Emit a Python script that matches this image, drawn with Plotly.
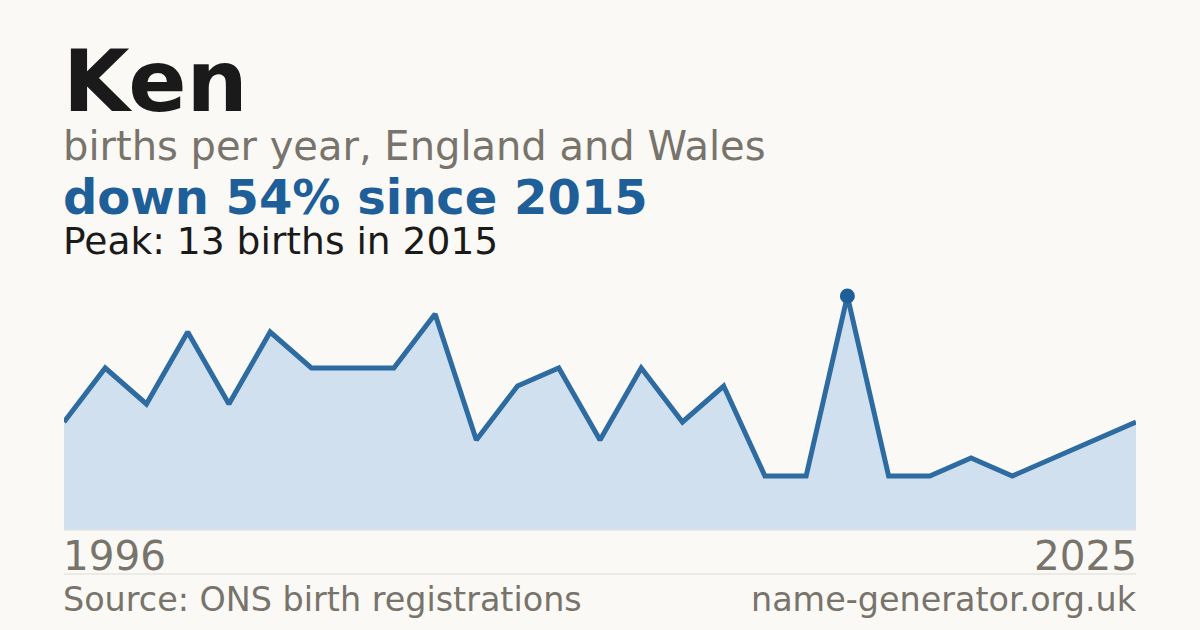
import plotly.graph_objects as go

# births per year for "Ken"
years = list(range(1996, 2023))
births = [6, 9, 7, 11, 7, 11, 9, 9, 9, 12, 5, 8, 9, 5, 9, 6, 8, 3, 3, 13,
          3, 3, 4, 3, 4, 5, 6]
peak_year = 2015
peak_value = 13
first_label = "1996"
last_label = "2025"

BG = "#faf9f5"
BLUE = "#1f5f99"
GREY = "#78736b"
FONT = "DejaVu Sans"

fig = go.Figure()
fig.add_trace(go.Scatter(
    x=years, y=births, mode="lines",
    line=dict(color="#2d6ba1", width=5),
    fill="tozeroy", fillcolor="#d0e0ef",
    hoverinfo="skip"))
fig.add_trace(go.Scatter(
    x=[peak_year], y=[peak_value], mode="markers",
    marker=dict(color=BLUE, size=15),
    hoverinfo="skip", cliponaxis=False))

# plot area is 252 px tall, so paper y = (530 - pixel) / 252
def py(pixel):
    return (530 - pixel) / 252

texts = [
    ("Ken", 0, 81, "left", 86, "#1a1a1a", True),
    ("births per year, England and Wales", 0, 146, "left", 40, GREY, False),
    ("down 54% since 2015", 0, 197, "left", 48, BLUE, True),
    ("Peak: 13 births in 2015", 0, 241, "left", 37.6, "#1a1a1a", False),
    (first_label, 0, 556, "left", 40.5, GREY, False),
    (last_label, 1, 556, "right", 40.5, GREY, False),
    ("Source: ONS birth registrations", 0, 599, "left", 33.4, GREY, False),
    ("name-generator.org.uk", 1, 599, "right", 33.4, GREY, False),
]
for txt, x, y, anchor, size, color, bold in texts:
    fig.add_annotation(
        text=f"<b>{txt}</b>" if bold else txt,
        xref="paper", yref="paper", x=x, y=py(y),
        xanchor=anchor, yanchor="middle", showarrow=False,
        xshift=-3 if anchor == "left" else 3,
        font=dict(family=FONT, size=size, color=color))

# separator line and baseline
fig.add_shape(type="line", xref="paper", yref="paper", x0=0, x1=1,
              y0=py(574), y1=py(574), line=dict(color="#dedbd3", width=1))
fig.add_shape(type="line", xref="paper", yref="paper", x0=0, x1=1,
              y0=0, y1=0, line=dict(color="#e2dfd7", width=1))

fig.update_layout(
    width=1200, height=630,
    margin=dict(l=64, r=64, t=278, b=100),
    paper_bgcolor=BG, plot_bgcolor=BG,
    showlegend=False,
    xaxis=dict(range=[1996, 2022], visible=False, fixedrange=True),
    yaxis=dict(range=[0, 14], visible=False, fixedrange=True),
)
fig.write_html("out.html", config={"displayModeBar": False},
               post_script="document.body.style.margin='0';")
